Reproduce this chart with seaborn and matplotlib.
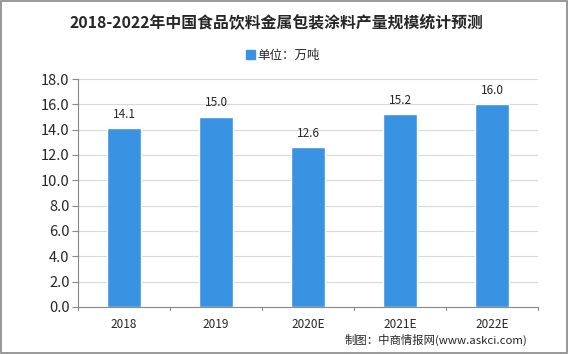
import matplotlib
matplotlib.use("Agg")
import matplotlib.pyplot as plt
import pandas as pd
import seaborn as sns
from matplotlib.patches import Patch, Rectangle

years = ["2018", "2019", "2020E", "2021E", "2022E"]
output = [14.1, 15.0, 12.6, 15.2, 16.0]
y_ticks = [0, 2, 4, 6, 8, 10, 12, 14, 16, 18]

title = "2018-2022年中国食品饮料金属包装涂料产量规模统计预测"
legend_label = "单位：万吨"
source = "制图：中商情报网(www.askci.com)"
bar_color = "#3A92E2"


def main():
    sns.set_theme(style="white")
    plt.rcParams["font.family"] = ["Noto Sans CJK SC", "DejaVu Sans"]

    df = pd.DataFrame({"year": years, "value": output})
    fig = plt.figure(figsize=(5.69, 3.54), dpi=100, facecolor="white")
    ax = fig.add_axes([78 / 569, 1 - 307 / 354, 460 / 569, 228 / 354])

    sns.barplot(data=df, x="year", y="value", color=bar_color, width=0.37,
                saturation=1, ax=ax, zorder=3)

    ax.set_ylim(0, 18)
    ax.set_yticks(y_ticks)
    ax.set_yticklabels([f"{v:.1f}" for v in y_ticks], fontsize=10.5)
    ax.yaxis.grid(True, color="#d9d9d9", linewidth=0.8, zorder=0)
    ax.set_xlim(-0.5, len(years) - 0.5)
    ax.set_xlabel("")
    ax.set_ylabel("")
    ax.tick_params(axis="x", labelsize=8.5, length=0, pad=8)
    ax.tick_params(axis="y", length=4, width=0.8, color="#888888", pad=2, left=True)
    # ticks between categories on x axis
    for i in range(len(years) + 1):
        ax.plot([i - 0.5, i - 0.5], [0, -0.25], color="#888888", lw=0.8,
                clip_on=False, transform=ax.transData)

    for s in ["top", "right"]:
        ax.spines[s].set_visible(False)
    for s in ["left", "bottom"]:
        ax.spines[s].set_color("#888888")
        ax.spines[s].set_linewidth(0.8)

    for i, v in enumerate(output):
        ax.text(i, v + 0.6, f"{v:.1f}", ha="center", va="bottom", fontsize=8.5)

    fig.text(276 / 569, 1 - 22 / 354, title, ha="center", va="center",
             fontsize=11.4, fontweight="bold")
    fig.legend(handles=[Patch(color=bar_color, label=legend_label)],
               loc="center", bbox_to_anchor=(283 / 569, 1 - 55 / 354), frameon=False,
               fontsize=9, handlelength=0.7, handleheight=0.7, handletextpad=0.2)
    fig.text(527 / 569, 1 - 340 / 354, source, ha="right", va="center", fontsize=8.2)

    fig.patches.append(Rectangle((0.002, 0.003), 0.995, 0.994, transform=fig.transFigure,
                                 fill=False, edgecolor="#888888", linewidth=1.2))

    fig.savefig("out.png", dpi=100, facecolor="white")


if __name__ == "__main__":
    main()
